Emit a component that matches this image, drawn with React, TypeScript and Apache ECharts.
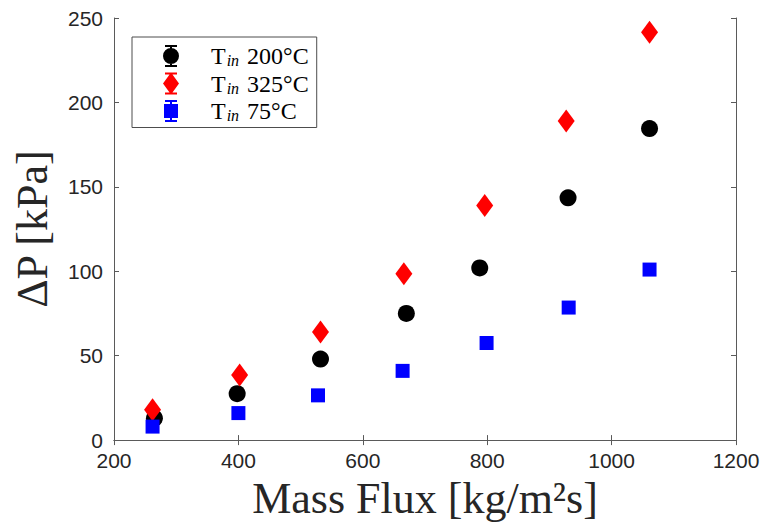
import React, { useEffect, useRef } from "react";
import * as echarts from "echarts";

const seriesNames = ["200°C", "325°C", "75°C"];
const colors = ["#000000", "#ff0000", "#0000ff"];

const x200 = [265, 398, 532, 670, 788, 930, 1061];
const y200 = [13, 27.5, 48, 75, 102, 143.5, 184.5];
const x325 = [262, 402, 532, 666, 796, 927, 1061];
const y325 = [18, 38.5, 64, 98.5, 139, 189, 241.5];
const x75 = [262, 400, 528, 664, 799, 931, 1061];
const y75 = [8, 16, 26.5, 41, 57.5, 78.5, 101];

const xTicks = [200, 400, 600, 800, 1000, 1200];
const yTicks = [0, 50, 100, 150, 200, 250];

const CAPS = "M2 0 H14 V2 H2 Z M2 20 H14 V22 H2 Z M7 0 H9 V22 H7 Z ";
const iconCircle = "path://" + CAPS + "M0 11 A8 8 0 1 1 16 11 A8 8 0 1 1 0 11 Z";
const iconDiamond = "path://" + CAPS + "M8 0 L16 11 L8 22 L0 11 Z";
const iconSquare = "path://" + CAPS + "M1 4 H15 V18 H1 Z";

const SANS = "'Liberation Sans Narrow', 'Liberation Sans', Arial, sans-serif";
const SERIF = "'Liberation Serif', 'DejaVu Serif', serif";

export default function App() {
  const ref = useRef<HTMLDivElement>(null);
  useEffect(() => {
    if (!ref.current) return;
    const chart = echarts.init(ref.current, null, { renderer: "svg" });
    const pair = (xs: number[], ys: number[]) => xs.map((x, i) => [x, ys[i]]);
    const axisLine = { show: true, lineStyle: { color: "#5a5a5a", width: 1 } };
    const axisTick = { show: true, inside: true, length: 5, lineStyle: { color: "#5a5a5a", width: 1 } };
    const tickLabel = {
      fontFamily: SANS,
      fontSize: 21,
      color: "#262626",
      formatter: (v: number) => String(v),
    };
    chart.setOption({
      animation: false,
      backgroundColor: "#ffffff",
      grid: { left: 114, right: 28, top: 18, bottom: 84, containLabel: false },
      legend: {
        orient: "vertical",
        left: 132,
        top: 37,
        data: [
          { name: seriesNames[0], icon: iconCircle },
          { name: seriesNames[1], icon: iconDiamond },
          { name: seriesNames[2], icon: iconSquare },
        ],
        itemWidth: 70,
        itemHeight: 22,
        itemGap: 3,
        padding: [7, 8, 4, 31],
        backgroundColor: "#ffffff",
        borderColor: "#4d4d4d",
        borderWidth: 1,
        borderRadius: 0,
        formatter: (name: string) => `{t|T}{s|in}{t| ${name}}`,
        textStyle: {
          rich: {
            t: { fontFamily: SERIF, fontSize: 24, color: "#000" },
            s: { fontFamily: SERIF, fontSize: 16, fontStyle: "italic", color: "#000", padding: [9, 2, 0, 1] },
          },
        },
      },
      xAxis: [
        {
          type: "value",
          min: 200,
          max: 1200,
          interval: 200,
          position: "bottom",
          axisLine,
          axisTick,
          splitLine: { show: false },
          axisLabel: { ...tickLabel, margin: 10 },
          name: "Mass Flux [kg/m²s]",
          nameLocation: "middle",
          nameGap: 35,
          nameTextStyle: { fontFamily: SERIF, fontSize: 44, color: "#262626" },
          data: xTicks,
        },
        {
          type: "value",
          min: 200,
          max: 1200,
          interval: 200,
          position: "top",
          axisLine,
          axisTick,
          splitLine: { show: false },
          axisLabel: { show: false },
        },
      ],
      yAxis: [
        {
          type: "value",
          min: 0,
          max: 250,
          interval: 50,
          position: "left",
          axisLine,
          axisTick,
          splitLine: { show: false },
          axisLabel: { ...tickLabel, margin: 11 },
          name: "ΔP [kPa]",
          nameLocation: "middle",
          nameGap: 60,
          nameTextStyle: { fontFamily: SERIF, fontSize: 44, color: "#262626" },
          data: yTicks,
        },
        {
          type: "value",
          min: 0,
          max: 250,
          interval: 50,
          position: "right",
          axisLine,
          axisTick,
          splitLine: { show: false },
          axisLabel: { show: false },
        },
      ],
      series: [
        {
          name: seriesNames[0],
          type: "scatter",
          symbol: "circle",
          symbolSize: 17,
          itemStyle: { color: colors[0], opacity: 1 },
          data: pair(x200, y200),
          z: 3,
        },
        {
          name: seriesNames[1],
          type: "scatter",
          symbol: "diamond",
          symbolSize: [17, 23],
          itemStyle: { color: colors[1], opacity: 1 },
          data: pair(x325, y325),
          z: 4,
        },
        {
          name: seriesNames[2],
          type: "scatter",
          symbol: "rect",
          symbolSize: 14,
          itemStyle: { color: colors[2], opacity: 1 },
          data: pair(x75, y75),
          z: 5,
        },
      ],
    });
    return () => chart.dispose();
  }, []);
  return (
    <div
      ref={ref}
      style={{ position: "fixed", left: 0, top: 0, width: 764, height: 525, background: "#fff" }}
    />
  );
}
